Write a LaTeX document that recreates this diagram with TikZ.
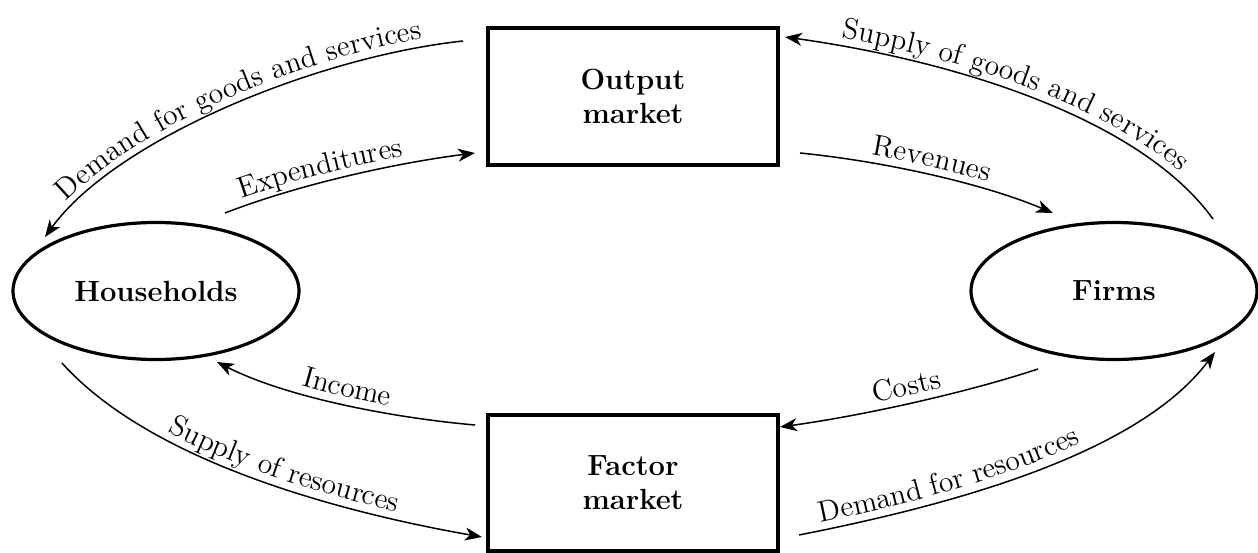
\documentclass[tikz,border=0pt]{standalone}
\usepackage{fontspec}
\usetikzlibrary{shapes.geometric,arrows.meta,decorations.text}
\newcommand\lblfont{\fontsize{14.8pt}{17pt}\selectfont}
\newcommand\boxfont{\fontsize{14.6pt}{17pt}\selectfont\bfseries}
\begin{document}
\begin{tikzpicture}[x=0.5pt,y=0.5pt,
  market/.style={draw, line width=1.6pt, minimum width=145pt, inner sep=0pt, align=center, font=\boxfont},
  agent/.style={draw, ellipse, line width=1.6pt, minimum width=143pt, minimum height=68.5pt, inner sep=0pt, font=\boxfont},
  flow/.style={line width=0.75pt},
  tipend/.style={-{Stealth[length=8.5pt,width=6.5pt,inset=2.5pt]}},
  tipstart/.style={{Stealth[length=8.5pt,width=6.5pt,inset=2.5pt]}-},
  lbl/.style={postaction={decorate, decoration={text along path, text={|\lblfont|#1}, text align=center, raise=4pt}}},
  lblat/.style 2 args={postaction={decorate, decoration={text along path, text={|\lblfont|#2}, text align={left, left indent=#1}, raise=4pt}}},
]
\useasboundingbox (0,0) rectangle (1258,552);

% nodes
\node[market, minimum height=68.5pt] (out) at (633,455.5) {Output\\market};
\node[market, minimum height=68pt] (fac) at (633,69) {Factor\\market};
\node[agent] (hh) at (156,261) {Households};
\node[agent] (fi) at (1114,261) {Firms};

% free ends of the flows
\coordinate (dgA) at (45,315);   \coordinate (dgB) at (463,511);
\coordinate (exA) at (225,339);  \coordinate (exB) at (475,399);
\coordinate (sgA) at (785,515);  \coordinate (sgB) at (1213,333);
\coordinate (rvA) at (800,399);  \coordinate (rvB) at (1053,339);
\coordinate (inA) at (217,190);  \coordinate (inB) at (475,127);
\coordinate (srA) at (62,189);   \coordinate (srB) at (482,15);
\coordinate (coA) at (780,125);  \coordinate (coB) at (1038,183);
\coordinate (drA) at (799,17);   \coordinate (drB) at (1215,200);

% flows
\draw[flow,tipstart,lbl={Demand for goods and services}] (dgA) .. controls (115,412) and (315,495) .. (dgB);
\draw[flow,tipend,lblat={10pt}{Expenditures}] (exA) .. controls (300,368) and (396,389) .. (exB);
\draw[flow,tipstart,lbl={Supply of goods and services}] (sgA) .. controls (943,493) and (1137,438) .. (sgB);
\draw[flow,tipend,lbl={Revenues}] (rvA) .. controls (880,391) and (979,370) .. (rvB);
\draw[flow,tipstart,lbl={Income}] (inA) .. controls (288,154) and (395,134) .. (inB);
\draw[flow,tipend,lblat={64pt}{Supply of resources}] (srA) .. controls (149,92) and (334,41) .. (srB);
\draw[flow,tipstart,lbl={Costs}] (coA) .. controls (860,136) and (962,158) .. (coB);
\draw[flow,tipend,lblat={12pt}{Demand for resources}] (drA) .. controls (946,46) and (1137,96) .. (drB);
\end{tikzpicture}
\end{document}
